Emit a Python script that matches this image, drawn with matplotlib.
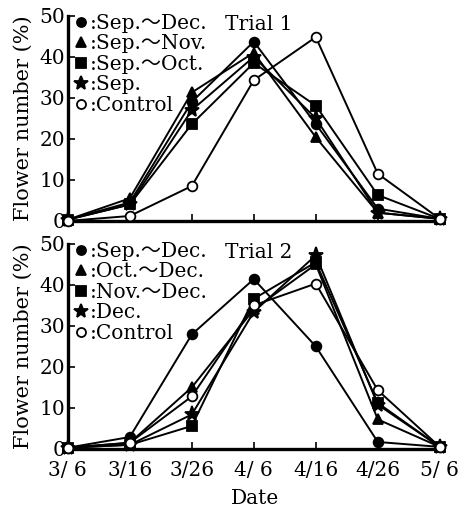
import matplotlib.pyplot as plt
import numpy as np

plt.rcParams['font.family'] = ['DejaVu Serif', 'Noto Sans CJK JP']

dates = ['3/ 6', '3/16', '3/26', '4/ 6', '4/16', '4/26', '5/ 6']

# trial 1
t1_sep_dec = [0.3, 4.5, 29.0, 43.7, 23.6, 3.0, 0.5]
t1_sep_nov = [0.3, 5.5, 31.3, 41.0, 20.4, 2.0, 0.5]
t1_sep_oct = [0.3, 4.0, 23.6, 38.5, 28.1, 6.3, 0.5]
t1_sep = [0.3, 4.0, 27.0, 40.0, 25.0, 2.0, 0.5]
t1_control = [0.0, 1.2, 8.5, 34.3, 44.8, 11.5, 0.5]

# trial 2
t2_sep_dec = [0.3, 2.9, 27.9, 41.4, 25.0, 1.7, 0.5]
t2_oct_dec = [0.3, 1.5, 15.0, 34.0, 45.0, 7.2, 0.5]
t2_nov_dec = [0.3, 1.0, 5.6, 36.6, 45.5, 11.2, 0.5]
t2_dec = [0.3, 1.0, 8.4, 33.4, 47.2, 10.8, 0.5]
t2_control = [0.3, 1.5, 12.8, 35.0, 40.3, 14.3, 0.5]

x = np.arange(len(dates))

fig = plt.figure(figsize=(4.58, 5.09), dpi=100)
ax1 = fig.add_axes([0.148, 0.566, 0.819, 0.403])
ax2 = fig.add_axes([0.148, 0.118, 0.819, 0.403])


def draw(ax, series, labels, trial):
    styles = [('o', 'k', 7), ('^', 'k', 7), ('s', 'k', 7), ('*', 'k', 11), ('o', 'white', 7)]
    for y, lab, (m, fc, ms) in zip(series, labels, styles):
        ax.plot(x, y, color='k', lw=1.4, marker=m, markerfacecolor=fc,
                markeredgecolor='k', markeredgewidth=1.3, markersize=ms, label=lab,
                clip_on=False, zorder=3)
    ax.set_xlim(0, 6.05)
    ax.set_ylim(0, 50)
    ax.set_yticks([0, 10, 20, 30, 40, 50])
    ax.set_xticks(x)
    for s in ['top', 'right']:
        ax.spines[s].set_visible(False)
    for s in ['left', 'bottom']:
        ax.spines[s].set_linewidth(2.4)
    ax.tick_params(direction='in', length=5, width=1.2, labelsize=14.5)
    ax.tick_params(axis='y', pad=2)
    ax.tick_params(axis='x', pad=9)
    ax.set_ylabel('Flower number (%)', fontsize=15, labelpad=5)
    leg = ax.legend(loc='upper left', bbox_to_anchor=(0.0, 1.05), frameon=False,
                    handlelength=0.5, handletextpad=0.2, labelspacing=0.08,
                    fontsize=14.5, borderaxespad=0)
    for h in leg.legend_handles:
        h.set_linestyle('none')
        h.set_markersize(6.5 if h.get_marker() != '*' else 10)
    ax.text(0.42, 1.005, trial, transform=ax.transAxes, fontsize=14.5, va='top', ha='left')


draw(ax1, [t1_sep_dec, t1_sep_nov, t1_sep_oct, t1_sep, t1_control],
     [':Sep.～Dec.', ':Sep.～Nov.', ':Sep.～Oct.', ':Sep.', ':Control'], 'Trial 1')
ax1.set_xticklabels([])

draw(ax2, [t2_sep_dec, t2_oct_dec, t2_nov_dec, t2_dec, t2_control],
     [':Sep.～Dec.', ':Oct.～Dec.', ':Nov.～Dec.', ':Dec.', ':Control'], 'Trial 2')
ax2.set_xticklabels(dates)
ax2.set_xlabel('Date', fontsize=14.5, labelpad=6)

fig.savefig('out.png', dpi=100)
